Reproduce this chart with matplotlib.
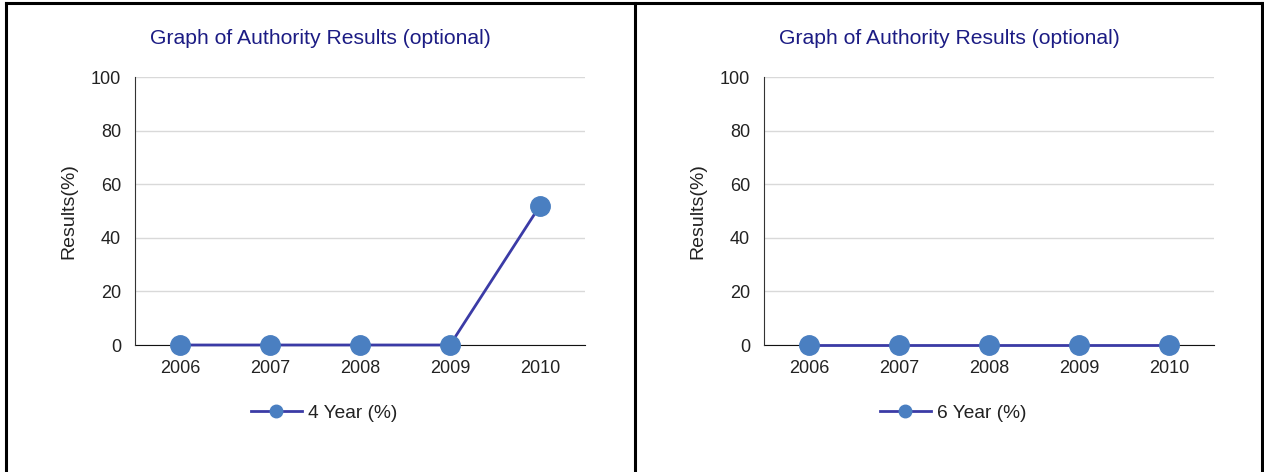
import matplotlib.pyplot as plt
from matplotlib.lines import Line2D

years = ['2006', '2007', '2008', '2009', '2010']
four_year = [0, 0, 0, 0, 52]
six_year = [0, 0, 0, 0, 0]
series_labels = ['4 Year (%)', '6 Year (%)']
title = 'Graph of Authority Results (optional)'
y_ticks = [0, 20, 40, 60, 80, 100]

W, H = 1264, 472
LINE_COLOR = '#3b3ba6'
MARKER_COLOR = '#4a7fc1'
TITLE_COLOR = '#1c1c84'

plt.rcParams['font.family'] = ['Liberation Sans', 'DejaVu Sans']


def fx(px):
    return px / W


def fy(py):
    return 1 - py / H


def draw_chart(fig, left_px, values, label):
    ax = fig.add_axes([fx(left_px), fy(345), 450 / W, 268 / H])
    x = list(range(len(years)))
    ax.plot(x, values, color=LINE_COLOR, lw=2, marker='o', ms=14,
            mfc=MARKER_COLOR, mec=MARKER_COLOR, zorder=3, clip_on=False)
    ax.set_xlim(-0.5, len(years) - 0.5)
    ax.set_ylim(0, 100)
    ax.set_xticks(x)
    ax.set_xticklabels(years)
    ax.set_yticks(y_ticks)
    ax.tick_params(length=0, labelsize=13, colors='#222222')
    ax.tick_params(axis='x', pad=11)
    ax.tick_params(axis='y', pad=10)
    ax.grid(axis='y', color='#d9d9d9', lw=1)
    ax.set_axisbelow(True)
    for s in ['top', 'right']:
        ax.spines[s].set_visible(False)
    ax.spines['left'].set_color('#333333')
    ax.spines['bottom'].set_color('#111111')
    ax.spines['bottom'].set_zorder(2)
    ax.set_ylabel('Results(%)', fontsize=14, color='#222222', labelpad=10)
    cx = left_px - 135 + 320
    fig.text(fx(cx), fy(38.5), title, ha='center', va='center',
             fontsize=15.2, color=TITLE_COLOR)
    h = Line2D([], [], color=LINE_COLOR, lw=2, marker='o', ms=9,
               mfc=MARKER_COLOR, mec=MARKER_COLOR)
    fig.legend([h], [label], loc='center', bbox_to_anchor=(fx(cx + 4), fy(413)),
               frameon=False, fontsize=13.8, handlelength=2.7,
               handletextpad=0.3, labelcolor='#222222')


fig = plt.figure(figsize=(W / 100, H / 100), dpi=100)
draw_chart(fig, 135, four_year, series_labels[0])
draw_chart(fig, 764, six_year, series_labels[1])

# cell borders
for xs, ys in [([6, 6], [3, H]), ([6, 1262], [3, 3]), ([1262, 1262], [3, H]),
               ([634.5, 634.5], [3, H])]:
    fig.add_artist(Line2D([fx(v) for v in xs], [fy(v) for v in ys],
                          color='black', lw=2.2))

fig.savefig('out.png', dpi=100)
